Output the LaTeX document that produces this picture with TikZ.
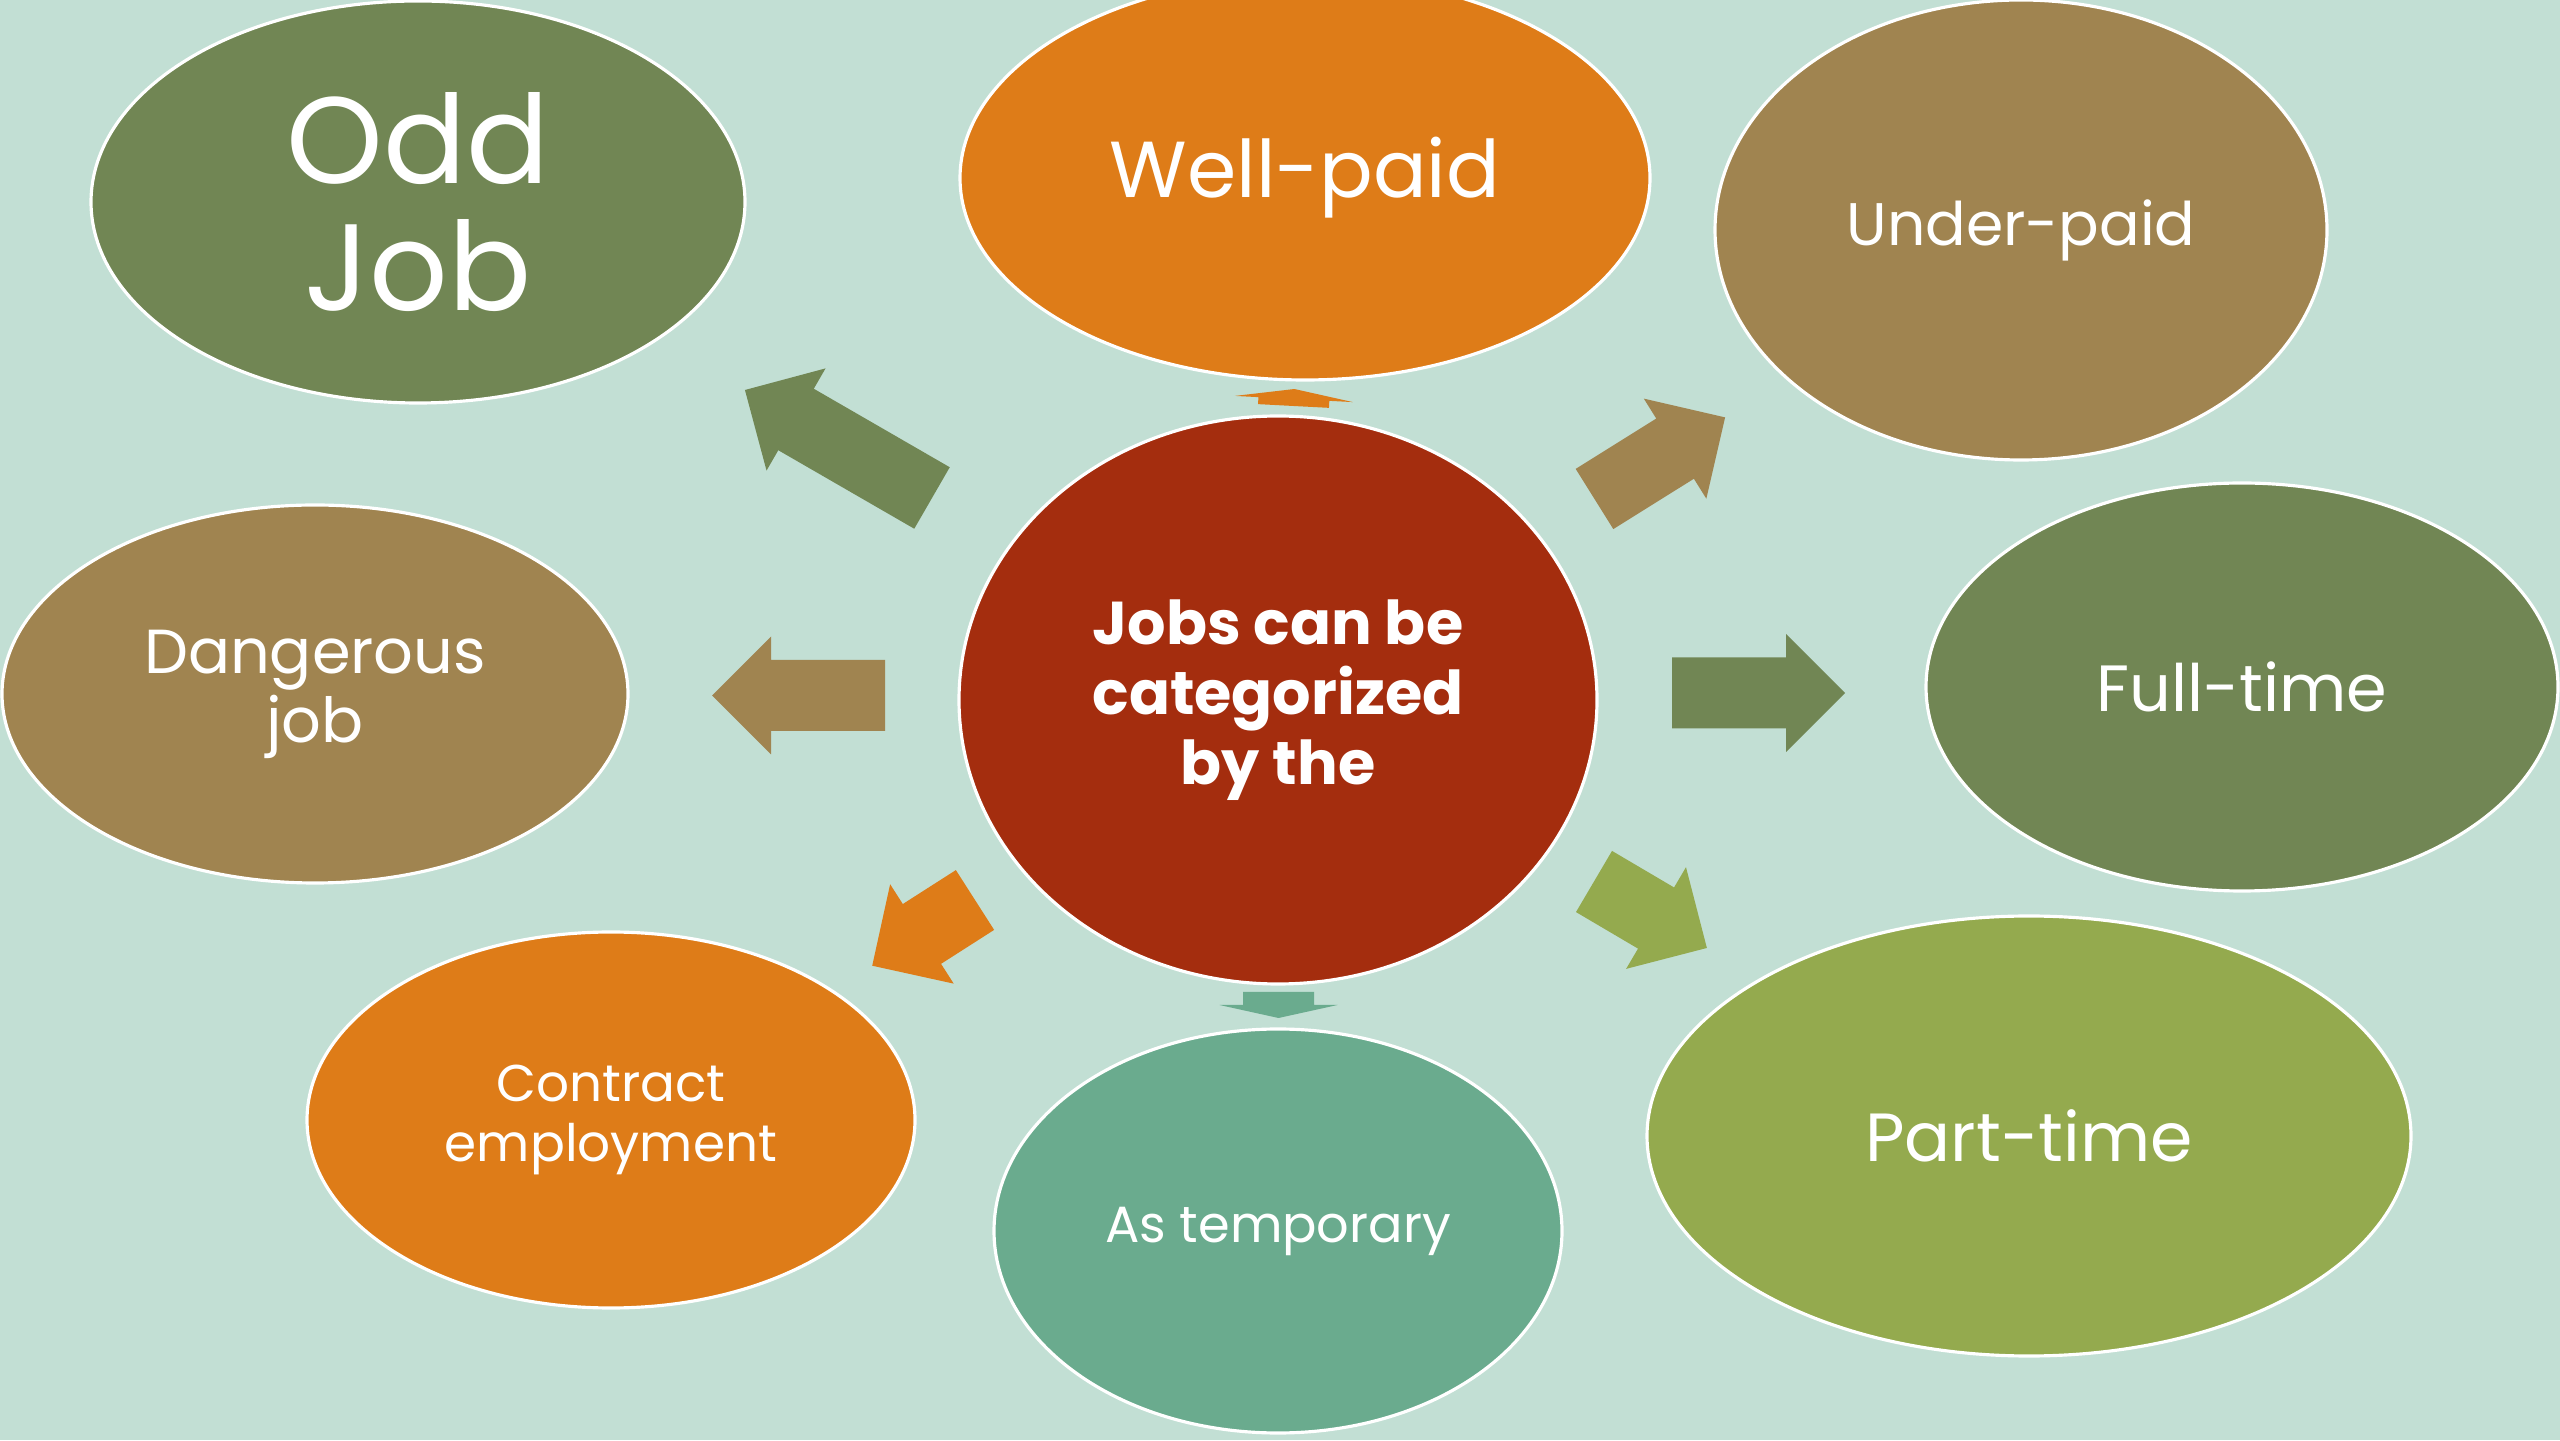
\documentclass[tikz,border=0pt]{standalone}
\usepackage{fontspec}
\setmainfont{Poppins}
\usetikzlibrary{shapes.geometric}

\definecolor{bgmint}{HTML}{C2DFD4}
\definecolor{hubred}{HTML}{A42D0E}
\definecolor{olivegreen}{HTML}{718654}
\definecolor{jobbrown}{HTML}{A08450}
\definecolor{joborange}{HTML}{DE7C18}
\definecolor{limegreen}{HTML}{94AA4E}
\definecolor{seagreen}{HTML}{6AAB8E}

\tikzset{
  bubble/.style={ellipse, draw=white, line width=0.9pt, text=white, align=center, inner sep=0pt},
  % fat block arrow: length, head length, colour
  pics/fatarrow/.style n args={3}{code={
    \fill[#3] (0,-0.355) -- ({#1-#2},-0.355) -- ({#1-#2},-0.59) -- (#1,0)
      -- ({#1-#2},0.59) -- ({#1-#2},0.355) -- (0,0.355) -- cycle;}}
}

\begin{document}
\begin{tikzpicture}
        \useasboundingbox (0,0) rectangle (25.6,14.4);
        \clip (0,0) rectangle (25.6,14.4);
        \fill[bgmint] (0,0) rectangle (25.6,14.4);
        % arrows out of the hub
        \pic[rotate=150] at (9.32,9.42) {fatarrow={2.16}{0.59}{olivegreen}};
        \pic[rotate=87] at (12.935,10.34) {fatarrow={0.17}{0.10}{joborange}};
        \pic[rotate=32] at (15.945,9.41) {fatarrow={1.54}{0.59}{jobbrown}};
        \pic[rotate=0] at (16.72,7.47) {fatarrow={1.73}{0.59}{olivegreen}};
        \pic[rotate=-30.5] at (15.94,5.585) {fatarrow={1.31}{0.59}{limegreen}};
        \pic[rotate=-90] at (12.785,4.48) {fatarrow={0.26}{0.13}{seagreen}};
        \pic[rotate=212.6] at (9.75,5.40) {fatarrow={1.22}{0.59}{joborange}};
        \pic[rotate=180] at (8.85,7.445) {fatarrow={1.73}{0.59}{jobbrown}};
        % the hub
        \node[bubble, fill=hubred, minimum width=6.38cm, minimum height=5.68cm,
          font=\bfseries\fontsize{17.2}{20}\selectfont] (hub) at (12.78,7.40)
          {Jobs can be\\categorized\\by the};
        % the kinds of job
        \node[bubble, fill=olivegreen, minimum width=6.54cm, minimum height=4.02cm,
          font=\fontsize{35}{36}\selectfont] (oddjob) at (4.18,12.38) {Odd\\Job};
        \node[bubble, fill=joborange, minimum width=6.9cm, minimum height=4.04cm,
          font=\fontsize{22.6}{26}\selectfont] (wellpaid) at (13.05,12.62) {Well-paid};
        \node[bubble, fill=jobbrown, minimum width=6.12cm, minimum height=4.6cm,
          font=\fontsize{17.1}{20}\selectfont] (underpaid) at (20.21,12.10) {Under-paid};
        \node[bubble, fill=jobbrown, minimum width=6.26cm, minimum height=3.78cm,
          font=\fontsize{17.7}{19.6}\selectfont] (dangerous) at (3.15,7.46) {Dangerous\\job};
        \node[bubble, fill=olivegreen, minimum width=6.32cm, minimum height=4.08cm,
          font=\fontsize{18.6}{22}\selectfont] (fulltime) at (22.42,7.53) {Full-time};
        \node[bubble, fill=joborange, minimum width=6.08cm, minimum height=3.76cm,
          font=\fontsize{14.7}{17}\selectfont] (contract) at (6.11,3.20) {Contract\\employment};
        \node[bubble, fill=seagreen, minimum width=5.68cm, minimum height=4.04cm,
          font=\fontsize{14.5}{18}\selectfont] (temporary) at (12.78,2.09) {As temporary};
        \node[bubble, fill=limegreen, minimum width=7.64cm, minimum height=4.4cm,
          font=\fontsize{19.4}{23}\selectfont] (parttime) at (20.29,3.04) {Part-time};
\end{tikzpicture}
\end{document}
